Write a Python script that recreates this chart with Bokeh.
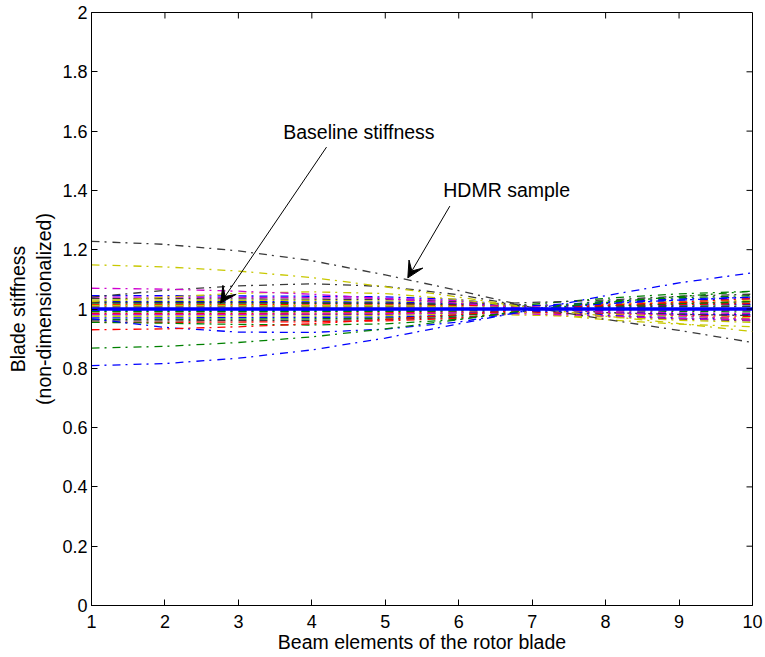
import math
from bokeh.plotting import figure
from bokeh.models import Range1d, FixedTicker, Arrow, VeeHead, Label
from bokeh.embed import file_html
from bokeh.resources import INLINE

# ---------------- data ----------------
elements = [1, 2, 3, 4, 5, 6, 7, 8, 9, 10]
baseline = [1.0, 1.0, 1.0, 1.0, 1.0, 1.0, 1.0, 1.0, 1.0, 1.0]

x_ticks = [1, 2, 3, 4, 5, 6, 7, 8, 9, 10]
y_ticks = [0, 0.2, 0.4, 0.6, 0.8, 1.0, 1.2, 1.4, 1.6, 1.8, 2.0]
y_tick_labels = ["0", "0.2", "0.4", "0.6", "0.8", "1", "1.2", "1.4", "1.6", "1.8", "2"]

# HDMR samples (stiffness along the 10 beam elements)
s_k1 = [1.228, 1.218, 1.196, 1.163, 1.115, 1.062, 1.005, 0.965, 0.928, 0.887]
s_y1 = [1.149, 1.142, 1.128, 1.106, 1.075, 1.040, 1.003, 0.976, 0.951, 0.924]
s_m1 = [1.070, 1.067, 1.060, 1.050, 1.035, 1.019, 1.001, 0.989, 0.978, 0.965]
s_k2 = [1.040, 1.063, 1.078, 1.085, 1.076, 1.048, 1.005, 0.988, 0.982, 0.978]
s_y2 = [1.025, 1.040, 1.053, 1.058, 1.052, 1.032, 1.002, 0.987, 0.976, 0.966]
s_r1 = [0.930, 0.933, 0.940, 0.950, 0.965, 0.981, 0.999, 1.012, 1.023, 1.035]
s_g1 = [0.868, 0.874, 0.887, 0.906, 0.933, 0.964, 0.998, 1.022, 1.042, 1.060]
s_b1 = [0.809, 0.816, 0.834, 0.862, 0.902, 0.950, 0.998, 1.045, 1.088, 1.122]
s_b2 = [0.967, 0.938, 0.922, 0.921, 0.932, 0.956, 0.996, 1.018, 1.030, 1.040]
s_g2 = [0.955, 0.952, 0.948, 0.946, 0.950, 0.965, 0.998, 1.010, 1.018, 1.025]
s_01 = [1.035, 1.035, 1.034, 1.033, 1.032, 1.025, 1.005, 0.988, 0.983, 0.980]
s_02 = [1.030, 1.030, 1.029, 1.029, 1.027, 1.021, 1.000, 0.982, 0.975, 0.970]
s_03 = [1.025, 1.025, 1.025, 1.024, 1.023, 1.018, 1.012, 1.009, 1.013, 1.015]
s_04 = [1.020, 1.020, 1.020, 1.019, 1.018, 1.014, 1.003, 0.994, 0.992, 0.990]
s_05 = [1.015, 1.015, 1.015, 1.014, 1.014, 1.011, 1.012, 1.015, 1.021, 1.025]
s_06 = [1.010, 1.010, 1.010, 1.010, 1.009, 1.007, 0.991, 0.976, 0.966, 0.960]
s_07 = [1.005, 1.005, 1.005, 1.005, 1.005, 1.004, 1.011, 1.018, 1.026, 1.030]
s_08 = [0.995, 0.995, 0.995, 0.995, 0.996, 0.997, 1.011, 1.024, 1.034, 1.040]
s_09 = [0.990, 0.990, 0.990, 0.991, 0.991, 0.993, 1.000, 1.006, 1.009, 1.010]
s_10 = [0.985, 0.985, 0.985, 0.986, 0.987, 0.990, 0.988, 0.985, 0.979, 0.975]
s_11 = [0.980, 0.980, 0.980, 0.981, 0.982, 0.986, 1.000, 1.012, 1.017, 1.020]
s_12 = [0.975, 0.975, 0.976, 0.976, 0.978, 0.983, 0.979, 0.973, 0.962, 0.955]
s_13 = [0.970, 0.970, 0.971, 0.972, 0.973, 0.979, 1.002, 1.021, 1.030, 1.035]
s_14 = [0.965, 0.965, 0.966, 0.967, 0.969, 0.976, 1.003, 1.027, 1.038, 1.045]
s_15 = [1.040, 1.040, 1.039, 1.038, 1.036, 1.028, 1.008, 0.991, 0.987, 0.985]
s_16 = [0.960, 0.960, 0.961, 0.962, 0.964, 0.972, 0.990, 1.005, 1.007, 1.008]
s_17 = [1.045, 1.045, 1.044, 1.043, 1.041, 1.032, 1.003, 0.979, 0.970, 0.965]
s_18 = [0.955, 0.955, 0.956, 0.957, 0.960, 0.969, 0.992, 1.011, 1.015, 1.018]
s_19 = [1.012, 1.012, 1.012, 1.011, 1.011, 1.008, 0.986, 0.964, 0.949, 0.940]
s_20 = [0.992, 0.992, 0.992, 0.992, 0.993, 0.994, 1.016, 1.036, 1.051, 1.060]
s_21 = [0.982, 0.982, 0.982, 0.983, 0.984, 0.987, 0.983, 0.977, 0.968, 0.962]
s_22 = [1.000, 1.000, 1.000, 1.000, 1.000, 1.000, 0.994, 0.988, 0.983, 0.980]
s_23 = [1.022, 1.022, 1.022, 1.021, 1.020, 1.015, 1.022, 1.030, 1.043, 1.050]
s_24 = [1.003, 1.003, 1.003, 1.003, 1.003, 1.002, 0.999, 0.997, 0.996, 0.995]

K, Y, M, R, G, B = "#3a3a3a", "#c8c800", "#d000d0", "#ff0000", "#008000", "#0000ff"

samples = [
    (s_01, K), (s_02, Y), (s_03, B), (s_04, G), (s_05, R), (s_06, K),
    (s_07, Y), (s_08, B), (s_09, G), (s_10, R), (s_11, K), (s_12, Y),
    (s_13, B), (s_14, G), (s_15, M), (s_16, K), (s_17, B), (s_18, R),
    (s_19, Y), (s_20, G), (s_21, M), (s_22, B), (s_23, K), (s_24, R),
    (s_g2, G), (s_b2, B), (s_r1, R), (s_g1, G), (s_b1, B),
    (s_y2, Y), (s_k2, K), (s_m1, M), (s_y1, Y), (s_k1, K),
]

FONT = "Liberation Sans"

# ---------------- figure ----------------
p = figure(width=765, height=657, output_backend="svg", toolbar_location=None,
           x_range=Range1d(1, 10), y_range=Range1d(0, 2),
           min_border_left=91, min_border_right=13, min_border_top=12, min_border_bottom=52)
p.background_fill_color = "white"
p.border_fill_color = "white"
p.outline_line_color = "black"
p.outline_line_width = 1
p.grid.visible = False

for vals, col in samples:
    p.line(elements, vals, line_color=col, line_width=1.3, line_dash="8 5 2 6")

p.line(elements, baseline, line_color="#0000ff", line_width=3.5)

# axes
for ax in (p.xaxis[0], p.yaxis[0]):
    ax.axis_line_color = "black"
    ax.major_tick_line_color = "black"
    ax.major_tick_in = 6
    ax.major_tick_out = 0
    ax.minor_tick_line_color = None
    ax.major_label_text_font = FONT
    ax.major_label_text_font_size = "18px"
    ax.major_label_text_color = "black"
    ax.axis_label_text_font = FONT
    ax.axis_label_text_font_size = "19.5px"
    ax.axis_label_text_font_style = "normal"
    ax.axis_label_text_color = "black"

p.xaxis[0].ticker = FixedTicker(ticks=x_ticks)
p.yaxis[0].ticker = FixedTicker(ticks=y_ticks)
p.yaxis[0].major_label_overrides = {t: l for t, l in zip(y_ticks, y_tick_labels)}
p.xaxis[0].major_label_standoff = 9
p.xaxis[0].axis_label_standoff = 0
p.yaxis[0].major_label_standoff = 4
p.yaxis[0].axis_label_standoff = 4
p.xaxis[0].axis_label = "Beam elements of the rotor blade"
p.yaxis[0].axis_label = "Blade stiffness\n(non-dimensionalized)"

# mirrored ticks (pointing inward) on the top and right edges of the box
p.ray(x=x_ticks, y=[2.0] * len(x_ticks), length=6, length_units="screen",
      angle=-math.pi / 2, line_color="black", line_width=1)
p.ray(x=[10] * len(y_ticks), y=y_ticks, length=6, length_units="screen",
      angle=math.pi, line_color="black", line_width=1)

# annotations
p.add_layout(Label(x=3.61, y=1.596, text="Baseline stiffness", text_baseline="middle",
                   text_font=FONT, text_font_size="19.5px", text_color="black"))
p.add_layout(Label(x=5.789, y=1.402, text="HDMR sample", text_baseline="middle",
                   text_font=FONT, text_font_size="19.5px", text_color="black"))
p.add_layout(Arrow(x_start=4.20, y_start=1.546, x_end=2.757, y_end=1.02,
                   line_color="black", line_width=1,
                   end=VeeHead(size=16, fill_color="black", line_color="black")))
p.add_layout(Arrow(x_start=5.879, y_start=1.347, x_end=5.307, y_end=1.105,
                   line_color="black", line_width=1,
                   end=VeeHead(size=16, fill_color="black", line_color="black")))

open("out.html", "w").write(file_html(p, INLINE))
